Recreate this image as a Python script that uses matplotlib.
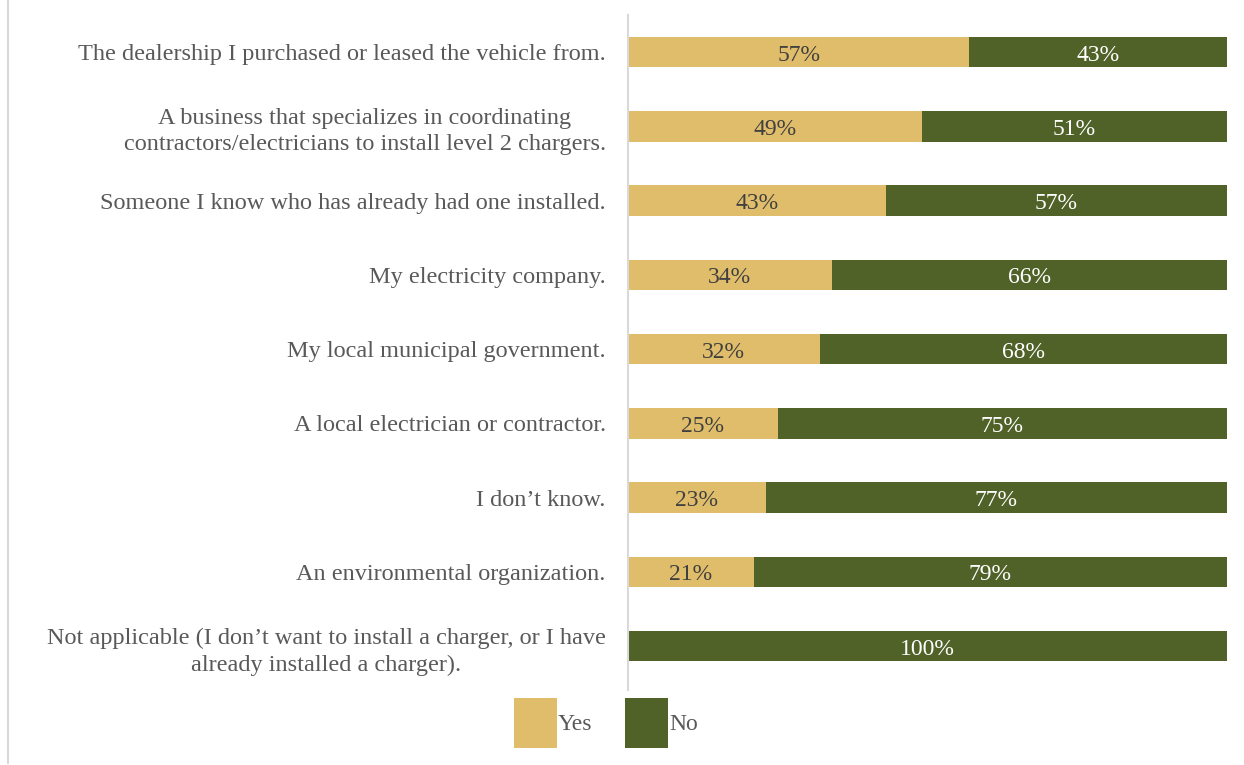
import matplotlib.pyplot as plt
from matplotlib.lines import Line2D
import numpy as np

plt.rcParams["font.family"] = ["Liberation Serif", "DejaVu Serif"]

# Survey responses: who respondents would turn to for a level 2 charger install
categories = [
    "The dealership I purchased or leased the vehicle from.",
    "A business that specializes in coordinating\ncontractors/electricians to install level 2 chargers.",
    "Someone I know who has already had one installed.",
    "My electricity company.",
    "My local municipal government.",
    "A local electrician or contractor.",
    "I don\u2019t know.",
    "An environmental organization.",
    "Not applicable (I don\u2019t want to install a charger, or I have\nalready installed a charger).",
]
yes_pct = [57, 49, 43, 34, 32, 25, 23, 21, 0]
no_pct = [43, 51, 57, 66, 68, 75, 77, 79, 100]

YES_COLOR = "#E0BD6A"
NO_COLOR = "#506228"
TEXT_GRAY = "#595959"

fig = plt.figure(figsize=(12.44, 7.65), dpi=100)
ax = fig.add_axes([628 / 1244, 1 - 690 / 765, 599 / 1244, 675 / 765])

y = np.arange(len(categories))
yes = np.array(yes_pct)
no = np.array(no_pct)

ax.barh(y, yes, height=0.41, color=YES_COLOR, label="Yes")
ax.barh(y, no, left=yes, height=0.41, color=NO_COLOR, label="No")

for i in range(len(categories)):
    if yes[i] > 0:
        ax.text(yes[i] / 2, y[i] + 0.04, f"{yes[i]}%", ha="center", va="center",
                fontsize=17, color="#404040")
    if no[i] > 0:
        ax.text(yes[i] + no[i] / 2, y[i] + 0.04, f"{no[i]}%", ha="center", va="center",
                fontsize=17, color="white")

ax.set_xlim(0, 100)
ax.set_ylim(8.59, -0.5)
ax.set_yticks(y)
ax.set_yticklabels(categories, fontsize=17.5, color=TEXT_GRAY, ha="right",
                   multialignment="center", linespacing=1.35)
ax.tick_params(axis="y", length=0, pad=16)
ax.set_xticks([])
for side in ["top", "right", "bottom"]:
    ax.spines[side].set_visible(False)
ax.spines["left"].set_color("#D9D9D9")
ax.spines["left"].set_linewidth(1.5)

# legend across the bottom
leg = fig.legend(loc="center", bbox_to_anchor=(606 / 1244, 1 - 723 / 765), ncol=2,
                 frameon=False, fontsize=17, labelcolor=TEXT_GRAY,
                 handlelength=1.82, handleheight=2.9, handletextpad=0.05,
                 columnspacing=1.4)

# thin frame edge down the left side
fig.add_artist(Line2D([8 / 1244, 8 / 1244], [0.002, 1], transform=fig.transFigure,
                      color="#D9D9D9", linewidth=1.5))

fig.savefig("out.png", dpi=100)
